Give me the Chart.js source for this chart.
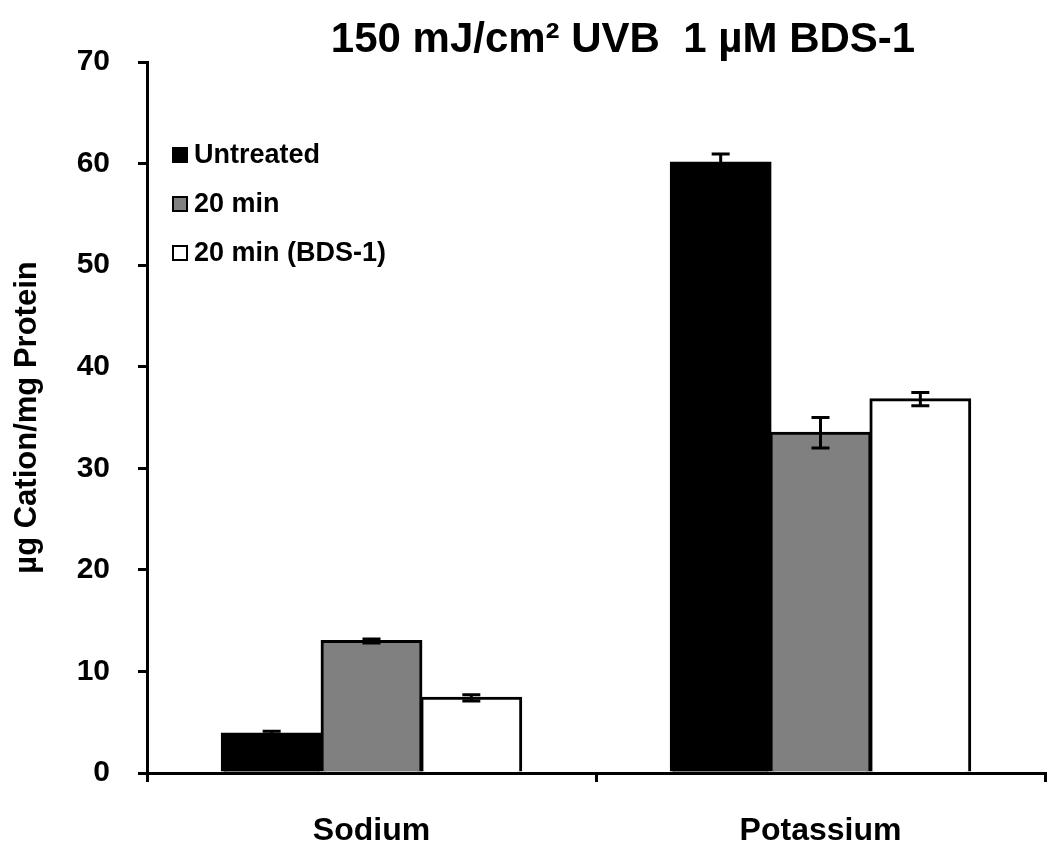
<!DOCTYPE html>
<html>
<head>
<meta charset="utf-8">
<script src="https://cdn.jsdelivr.net/npm/chart.js@4"></script>
<style>
  html, body { margin: 0; padding: 0; background: #fff; }
  #wrap { width: 1050px; height: 852px; }
</style>
</head>
<body>
<div id="wrap"><canvas id="myChart" width="1050" height="852"></canvas></div>
<script>
const categories = ['Sodium', 'Potassium'];
const seriesNames = ['Untreated', '20 min', '20 min (BDS-1)'];
const untreated = [3.9, 60.1];
const untreatedErr = [0.2, 0.85];
const twentyMin = [13.0, 33.5];
const twentyMinErr = [0.2, 1.5];
const twentyMinBds = [7.4, 36.8];
const twentyMinBdsErr = [0.3, 0.65];
const yTicks = [0, 10, 20, 30, 40, 50, 60, 70];

const FONT = '"Liberation Sans", Arial, sans-serif';

// error bars drawn through the y scale
const errorBars = {
  id: 'errorBars',
  afterDatasetsDraw(chart) {
    const ctx = chart.ctx;
    const y = chart.scales.y;
    chart.data.datasets.forEach((ds, i) => {
      const meta = chart.getDatasetMeta(i);
      meta.data.forEach((bar, j) => {
        const v = ds.data[j];
        const e = ds.errors[j];
        const top = y.getPixelForValue(v + e);
        const bot = y.getPixelForValue(v - e);
        ctx.save();
        ctx.strokeStyle = '#000';
        ctx.lineWidth = 3;
        ctx.beginPath();
        ctx.moveTo(bar.x, top);
        ctx.lineTo(bar.x, bot);
        ctx.moveTo(bar.x - 9, top);
        ctx.lineTo(bar.x + 9, top);
        ctx.moveTo(bar.x - 9, bot);
        ctx.lineTo(bar.x + 9, bot);
        ctx.stroke();
        ctx.restore();
      });
    });
  }
};

// legend inside plot area + title
const legendAndTitle = {
  id: 'legendAndTitle',
  afterDraw(chart) {
    const ctx = chart.ctx;
    ctx.save();
    ctx.fillStyle = '#000';
    ctx.font = 'bold 42px ' + FONT;
    ctx.textAlign = 'center';
    ctx.textBaseline = 'middle';
    ctx.fillText('150 mJ/cm\u00B2 UVB  1 \u00B5M BDS-1', 623, 40);

    ctx.font = 'bold 27px ' + FONT;
    ctx.textAlign = 'left';
    chart.data.datasets.forEach((ds, i) => {
      const cy = 155 + i * 49;
      ctx.fillStyle = ds.backgroundColor;
      ctx.fillRect(173, cy - 7, 14, 14);
      ctx.strokeStyle = '#000';
      ctx.lineWidth = 2;
      ctx.strokeRect(173, cy - 7, 14, 14);
      ctx.fillStyle = '#000';
      ctx.fillText(ds.label, 194, cy + 1);
    });
    ctx.restore();
  }
};

new Chart(document.getElementById('myChart'), {
  type: 'bar',
  data: {
    labels: categories,
    datasets: [
      { label: seriesNames[0], data: untreated, errors: untreatedErr, backgroundColor: '#000000', borderColor: '#000', borderWidth: 3, inflateAmount: 1 },
      { label: seriesNames[1], data: twentyMin, errors: twentyMinErr, backgroundColor: '#808080', borderColor: '#000', borderWidth: 3, inflateAmount: 1 },
      { label: seriesNames[2], data: twentyMinBds, errors: twentyMinBdsErr, backgroundColor: '#ffffff', borderColor: '#000', borderWidth: 3, inflateAmount: 1 }
    ]
  },
  options: {
    responsive: false,
    animation: false,
    layout: { padding: { top: 62, right: 5, left: 0, bottom: 0 } },
    categoryPercentage: 0.667,
    barPercentage: 1.0,
    plugins: {
      legend: { display: false },
      title: { display: false },
      tooltip: { enabled: false }
    },
    scales: {
      x: {
        grid: { offset: true, drawOnChartArea: false, drawTicks: true, tickLength: 9, color: '#000', lineWidth: 3 },
        border: { color: '#000', width: 3 },
        ticks: { color: '#000', padding: 30, font: { family: FONT, size: 32, weight: 'bold' } },
        afterFit: s => { s.height = 79; }
      },
      y: {
        min: 0,
        max: 70,
        afterBuildTicks: s => { s.ticks = yTicks.map(v => ({ value: v })); },
        grid: { drawOnChartArea: false, drawTicks: true, tickLength: 9, color: '#000', lineWidth: 3 },
        border: { color: '#000', width: 3 },
        ticks: { color: '#000', padding: 28, font: { family: FONT, size: 30, weight: 'bold' } },
        title: {
          display: true,
          text: '\u00B5g Cation/mg Protein',
          color: '#000',
          padding: { top: 9, bottom: 0 },
          font: { family: FONT, size: 31, weight: 'bold', lineHeight: 1.2 }
        },
        afterFit: s => { s.width = 147; }
      }
    }
  },
  plugins: [errorBars, legendAndTitle]
});
</script>
</body>
</html>
